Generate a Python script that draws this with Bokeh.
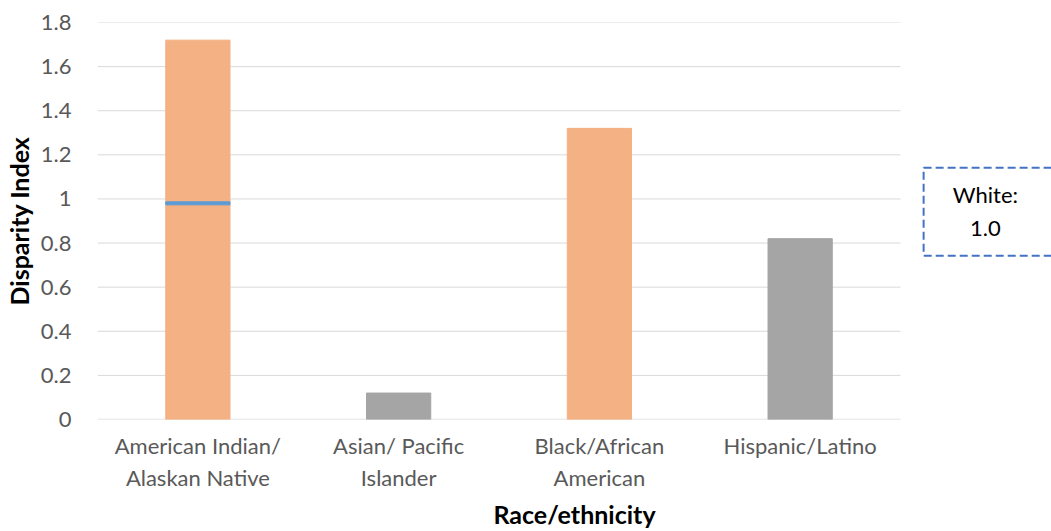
from bokeh.plotting import figure
from bokeh.models import Label, Range1d, ColumnDataSource, FixedTicker, BoxAnnotation
from bokeh.embed import file_html
from bokeh.resources import INLINE

categories = ["American Indian/\nAlaskan Native", "Asian/ Pacific\nIslander", "Black/African\nAmerican", "Hispanic/Latino"]
values = [1.72, 0.12, 1.32, 0.82]
colors = ["#F4B183", "#A5A5A5", "#F4B183", "#A5A5A5"]
marker_index = [0]
marker_val = [0.98]
y_ticks = [0, 0.2, 0.4, 0.6, 0.8, 1.0, 1.2, 1.4, 1.6, 1.8]
y_tick_labels = ["0", "0.2", "0.4", "0.6", "0.8", "1", "1.2", "1.4", "1.6", "1.8"]
reference_lines = ["White:", "1.0"]

FONT = "Lato"
n = len(categories)
xpos = [i + 0.5 for i in range(n)]

p = figure(x_range=Range1d(0, 4.752), y_range=Range1d(0, 1.8),
           width=1051, height=531, output_backend="svg", toolbar_location=None,
           min_border_left=97, min_border_right=0, min_border_top=22, min_border_bottom=112)
p.outline_line_color = None
p.xgrid.grid_line_color = None
p.ygrid.grid_line_color = None

# gridlines limited to the category band area
p.segment(x0=[0] * len(y_ticks[1:]), x1=[n] * len(y_ticks[1:]), y0=y_ticks[1:], y1=y_ticks[1:],
          line_color="#D9D9D9", line_width=1)
# category axis baseline
p.segment(x0=[0], x1=[n], y0=[0], y1=[0], line_color="#D9D9D9", line_width=1.5)

src = ColumnDataSource(dict(x=xpos, top=values, color=colors))
p.vbar(x="x", top="top", width=0.32, color="color", source=src)
p.rect(x=[xpos[i] for i in marker_index], y=marker_val, width=0.32, height=3,
       height_units="screen", color="#5B9BD5")

p.yaxis.ticker = FixedTicker(ticks=y_ticks)
p.yaxis.major_label_overrides = dict(zip(y_ticks, y_tick_labels))
p.yaxis.axis_line_color = None
p.yaxis.major_tick_line_color = None
p.yaxis.minor_tick_line_color = None
p.yaxis.major_label_text_font = FONT
p.yaxis.major_label_text_font_size = "22px"
p.yaxis.major_label_text_color = "#595959"
p.yaxis.major_label_standoff = 20
p.yaxis.axis_label = "Disparity Index"
p.yaxis.axis_label_text_font = FONT
p.yaxis.axis_label_text_font_style = "bold"
p.yaxis.axis_label_text_font_size = "25px"
p.yaxis.axis_label_text_color = "#000000"
p.yaxis.axis_label_standoff = 4

p.xaxis.ticker = FixedTicker(ticks=xpos)
p.xaxis.major_label_overrides = dict(zip(xpos, categories))
p.xaxis.axis_line_color = None
p.xaxis.major_tick_line_color = None
p.xaxis.minor_tick_line_color = None
p.xaxis.major_label_text_font = FONT
p.xaxis.major_label_text_font_size = "22px"
p.xaxis.major_label_text_color = "#595959"
p.xaxis.major_label_standoff = 6
p.xaxis.axis_label = "Race/ethnicity"
p.xaxis.axis_label_text_font = FONT
p.xaxis.axis_label_text_font_style = "bold"
p.xaxis.axis_label_text_font_size = "25px"
p.xaxis.axis_label_text_color = "#000000"
p.xaxis.axis_label_standoff = 5

box = BoxAnnotation(left=4.115, right=5.5, bottom=0.743, top=1.142,
                    fill_color="white", fill_alpha=1.0, line_color="#4472C4", line_alpha=1.0,
                    line_dash="8 4", line_width=2)
p.add_layout(box)
for txt, yy in zip(reference_lines, [1.021, 0.866]):
    p.add_layout(Label(x=4.423, y=yy, text=txt, text_align="center", text_baseline="middle",
                       text_font=FONT, text_font_size="22px", text_color="#000000"))

open("out.html", "w").write(file_html(p, INLINE))
